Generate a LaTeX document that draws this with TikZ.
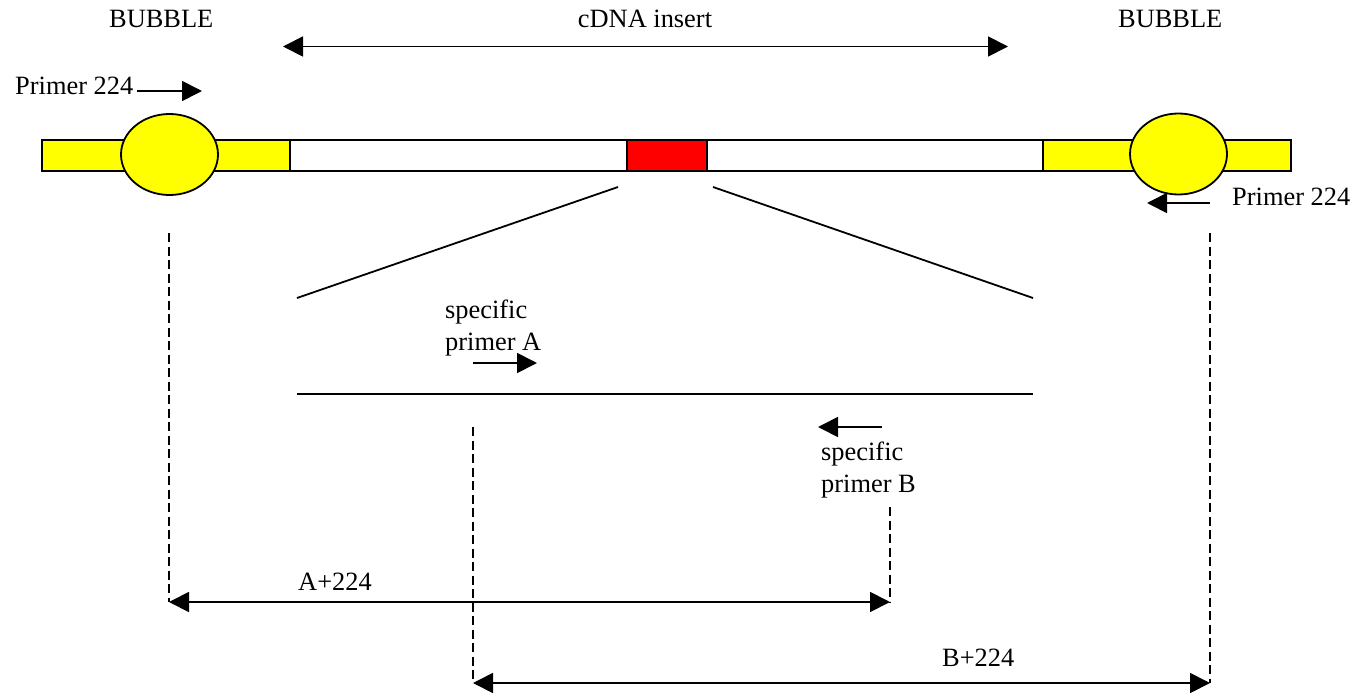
\documentclass[tikz,border=0pt]{standalone}
\usepackage{fontspec}
\setmainfont{Liberation Serif}
\usetikzlibrary{arrows.meta,shapes.geometric}
\definecolor{yel}{RGB}{255,255,0}
\definecolor{rd}{RGB}{255,0,0}
\begin{document}
\begin{tikzpicture}[x=1pt,y=-1pt,
  lbl/.style={font=\fontsize{26.4}{32}\selectfont, inner sep=0pt, anchor=base west, align=left},
  bar/.style={draw, line width=1.8pt, rectangle, inner sep=0pt, anchor=north west},
  bub/.style={draw, line width=1.8pt, ellipse, fill=yel, inner sep=0pt, minimum width=97pt, minimum height=81pt},
  ln/.style={line width=1.8pt},
  arr/.style={line width=1.8pt, -{Triangle[length=20pt,width=20pt]}},
  darr/.style={line width=1.8pt, {Triangle[length=20pt,width=20pt]}-{Triangle[length=20pt,width=20pt]}},
  dsh/.style={line width=1.6pt, dash pattern=on 9pt off 4.5pt}
]
\useasboundingbox (0,0) rectangle (1367,693);

% bars
\node[bar, fill=yel, minimum width=248pt, minimum height=31pt] (yl) at (41,139) {};
\node[bar, fill=white, minimum width=753pt, minimum height=31pt] (wb) at (289,139) {};
\node[bar, fill=rd, minimum width=80pt, minimum height=31pt] (rb) at (626,139) {};
\node[bar, fill=yel, minimum width=248pt, minimum height=31pt] (yr) at (1042,139) {};
\node[bub] (bl) at (169.5,154.5) {};
\node[bub] (br) at (1178.5,154) {};

% top labels
\node[lbl] (bubL) at (109,28) {BUBBLE};
\node[lbl] (bubR) at (1118,28) {BUBBLE};
\node[lbl, anchor=base] (cdna) at (645,28) {cDNA insert};
\coordinate (cL) at (283,46.5);
\coordinate (cR) at (1008,46.5);
\draw[darr] (cL) -- (cR);

% primer 224 left
\node[lbl] (p1) at (15,94) {Primer 224};
\coordinate (p1a) at (137,91);
\coordinate (p1b) at (202,91);
\draw[arr] (p1a) -- (p1b);

% primer 224 right
\node[lbl] (p2) at (1232,205) {Primer 224};
\coordinate (p2a) at (1210,203);
\coordinate (p2b) at (1147,203);
\draw[arr] (p2a) -- (p2b);

% zoom lines
\coordinate (z1) at (618,187);
\coordinate (z2) at (297,298);
\coordinate (z3) at (713,187);
\coordinate (z4) at (1033,298);
\coordinate (h1) at (297,394);
\coordinate (h2) at (1033,394);
\draw[ln] (z1) -- (z2);
\draw[ln] (z3) -- (z4);
\draw[ln] (h1) -- (h2);

% specific primer A
\node[lbl] (spA) at (445,350) {specific\\primer A};
\coordinate (aA1) at (473,363);
\coordinate (aA2) at (537,363);
\draw[arr] (aA1) -- (aA2);

% specific primer B
\node[lbl] (spB) at (821,492) {specific\\primer B};
\coordinate (aB1) at (882,427);
\coordinate (aB2) at (818,427);
\draw[arr] (aB1) -- (aB2);

% dashed lines
\coordinate (d1t) at (169,233);
\coordinate (d1b) at (169,602);
\coordinate (d2t) at (473,427);
\coordinate (d2b) at (473,683);
\coordinate (d3t) at (890,507);
\coordinate (d3b) at (890,602);
\coordinate (d4t) at (1210,233);
\coordinate (d4b) at (1210,683);
\draw[dsh] (d1t) -- (d1b);
\draw[dsh] (d2t) -- (d2b);
\draw[dsh] (d3t) -- (d3b);
\draw[dsh] (d4t) -- (d4b);

% measure arrows
\draw[darr] (d1b) -- (d3b);
\node[lbl] (lA) at (298,590) {A+224};
\draw[darr] (d2b) -- (d4b);
\node[lbl] (lB) at (942,666) {B+224};
\end{tikzpicture}
\end{document}
